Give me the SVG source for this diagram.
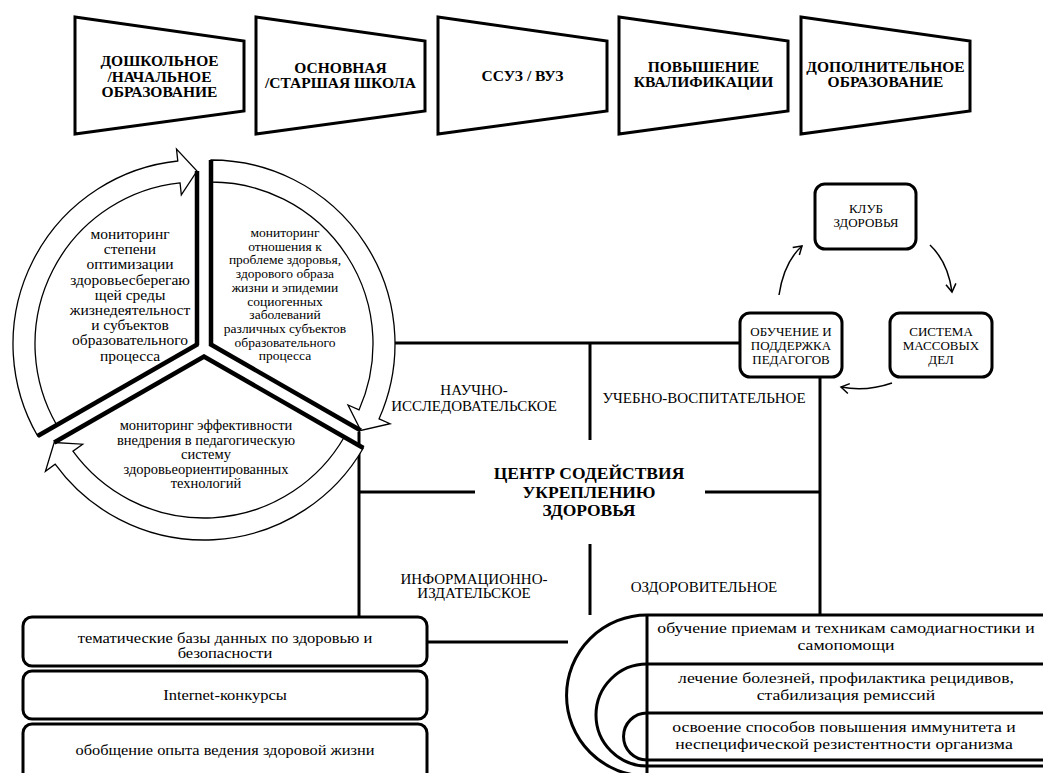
<svg xmlns="http://www.w3.org/2000/svg" width="1043" height="773" viewBox="0 0 1043 773">
<defs>
<style>
.t{font-family:"Liberation Serif","Times New Roman",serif;fill:#000;text-anchor:middle}
.b{font-weight:bold}
.trap{fill:#fff;stroke:#000;stroke-width:3;stroke-linejoin:miter}
.band{fill:#fff;stroke:#000;stroke-width:1.3;stroke-linejoin:miter}
.sec{fill:#fff;stroke:none}
.edge{stroke:#000;stroke-width:4.5;fill:none}
.ln{stroke:#000;stroke-width:3;fill:none}
.box{fill:#fff;stroke:#000;stroke-width:3}
.cur{fill:none;stroke:#000;stroke-width:1.5}
</style>
<marker id="ah" markerWidth="12" markerHeight="12" refX="9" refY="6" orient="auto" markerUnits="userSpaceOnUse">
<path d="M1,1 L9,6 L1,11" fill="none" stroke="#000" stroke-width="1.5"/>
</marker>
</defs>
<rect width="1043" height="773" fill="#fff"/>

<!-- top stages -->
<g id="stage1"><polygon class="trap" points="75,17 244,41 244,111 75,134"/>
<text class="t b" font-size="15.5" x="159.5" y="66">ДОШКОЛЬНОЕ</text>
<text class="t b" font-size="15.5" x="159.5" y="81.5">/НАЧАЛЬНОЕ</text>
<text class="t b" font-size="15.5" x="159.5" y="97">ОБРАЗОВАНИЕ</text></g>
<g id="stage2"><polygon class="trap" points="256,17 425,41 425,111 256,134"/>
<text class="t b" font-size="15.5" x="340.5" y="73">ОСНОВНАЯ</text>
<text class="t b" font-size="15.5" x="340.5" y="88">/СТАРШАЯ ШКОЛА</text></g>
<g id="stage3"><polygon class="trap" points="438,17 607,41 607,111 438,134"/>
<text class="t b" font-size="15.5" x="522.5" y="81">ССУЗ / ВУЗ</text></g>
<g id="stage4"><polygon class="trap" points="619,17 788,41 788,111 619,134"/>
<text class="t b" font-size="15.5" x="703.5" y="72">ПОВЫШЕНИЕ</text>
<text class="t b" font-size="15.5" x="703.5" y="87">КВАЛИФИКАЦИИ</text></g>
<g id="stage5"><polygon class="trap" points="801,17 970,41 970,111 801,134"/>
<text class="t b" font-size="15.5" x="885.5" y="72">ДОПОЛНИТЕЛЬНОЕ</text>
<text class="t b" font-size="15.5" x="885.5" y="87">ОБРАЗОВАНИЕ</text></g>

<!-- connectors -->
<g id="connectors">
<line class="ln" x1="393" y1="343" x2="741" y2="343"/>
<line class="ln" x1="590" y1="343" x2="590" y2="440"/>
<line class="ln" x1="820" y1="376" x2="820" y2="616"/>
<line class="ln" x1="358" y1="492" x2="475" y2="492"/>
<line class="ln" x1="705" y1="492" x2="821" y2="492"/>
<line class="ln" x1="590" y1="544" x2="590" y2="615"/>
<line class="ln" x1="359" y1="432" x2="359" y2="618"/>
<line class="ln" x1="426" y1="642" x2="568" y2="642"/>
<path class="cur" d="M779,295 Q784,262 802,246" marker-end="url(#ah)"/>
<path class="cur" d="M930,245 Q948,262 952,292" marker-end="url(#ah)"/>
<path class="cur" d="M892,383 Q866,392 841,387" marker-end="url(#ah)"/>
</g>

<!-- monitoring cycle -->
<g id="cycle">
<path class="sec" d="M197,344 L56.7,425 A162,162 0 0 1 197,182 Z"/>
<path class="sec" d="M211,344 L211,182 A162,162 0 0 1 351.3,425 Z"/>
<path class="sec" d="M204,356 L344.3,437 A162,162 0 0 1 63.7,437 Z"/>
<path class="band" d="M37.65,436 A184,184 0 0 1 177.77,161.01 L176.51,149.07 L197,171 L181.32,194.82 L180.07,182.89 A162,162 0 0 0 56.7,425 Z"/>
<path class="band" d="M211,160 A184,184 0 0 1 379.09,418.84 L390.06,423.72 L360.82,430.5 L348.03,405.01 L359,409.89 A162,162 0 0 0 211,182 Z"/>
<path class="band" d="M363.35,448 A184,184 0 0 1 55.14,464.15 L45.43,471.21 L54.18,442.5 L82.65,444.17 L72.94,451.22 A162,162 0 0 0 344.3,437 Z"/>
<line class="edge" x1="197" y1="345" x2="197" y2="171"/>
<line class="edge" x1="198" y1="344" x2="37.65" y2="436"/>
<line class="edge" x1="211" y1="346" x2="211" y2="160"/>
<line class="edge" x1="210" y1="344" x2="360.8" y2="430.5"/>
<line class="edge" x1="203" y1="356" x2="363.35" y2="448"/>
<line class="edge" x1="205" y1="356" x2="54.18" y2="442.5"/>
</g>
<g id="mon-left">
<text class="t" font-size="15.5" x="130" y="239">мониторинг</text>
<text class="t" font-size="15.5" x="130" y="254.2">степени</text>
<text class="t" font-size="15.5" x="130" y="269.4">оптимизации</text>
<text class="t" font-size="15.5" x="130" y="284.6">здоровьесберегаю</text>
<text class="t" font-size="15.5" x="130" y="299.8">щей среды</text>
<text class="t" font-size="15.5" x="130" y="315">жизнедеятельност</text>
<text class="t" font-size="15.5" x="130" y="330.2">и субъектов</text>
<text class="t" font-size="15.5" x="130" y="345.4">образовательного</text>
<text class="t" font-size="15.5" x="130" y="360.6">процесса</text>
</g>
<g id="mon-right">
<text class="t" font-size="13.5" x="285" y="237">мониторинг</text>
<text class="t" font-size="13.5" x="285" y="250.7">отношения к</text>
<text class="t" font-size="13.5" x="285" y="264.4">проблеме здоровья,</text>
<text class="t" font-size="13.5" x="285" y="278.1">здорового образа</text>
<text class="t" font-size="13.5" x="285" y="291.8">жизни и эпидемии</text>
<text class="t" font-size="13.5" x="285" y="305.5">социогенных</text>
<text class="t" font-size="13.5" x="285" y="319.2">заболеваний</text>
<text class="t" font-size="13.5" x="285" y="332.9">различных субъектов</text>
<text class="t" font-size="13.5" x="285" y="346.6">образовательного</text>
<text class="t" font-size="13.5" x="285" y="360.3">процесса</text>
</g>
<g id="mon-bottom">
<text class="t" font-size="14.5" x="206" y="430">мониторинг эффективности</text>
<text class="t" font-size="14.5" x="206" y="444.5">внедрения в педагогическую</text>
<text class="t" font-size="14.5" x="206" y="459">систему</text>
<text class="t" font-size="14.5" x="206" y="473.5">здоровьеориентированных</text>
<text class="t" font-size="14.5" x="206" y="488">технологий</text>
</g>

<!-- direction labels -->
<g id="lbl-nauch"><text class="t" font-size="15" x="474" y="395">НАУЧНО-</text><text class="t" font-size="15" x="474" y="411">ИССЛЕДОВАТЕЛЬСКОЕ</text></g>
<g id="lbl-ucheb"><text class="t" font-size="15" x="704" y="403">УЧЕБНО-ВОСПИТАТЕЛЬНОЕ</text></g>
<g id="center"><text class="t b" font-size="17.5" x="589" y="479">ЦЕНТР СОДЕЙСТВИЯ</text><text class="t b" font-size="17.5" x="589" y="497.5">УКРЕПЛЕНИЮ</text><text class="t b" font-size="17.5" x="589" y="516">ЗДОРОВЬЯ</text></g>
<g id="lbl-inf"><text class="t" font-size="15" x="474" y="584">ИНФОРМАЦИОННО-</text><text class="t" font-size="15" x="474" y="598">ИЗДАТЕЛЬСКОЕ</text></g>
<g id="lbl-ozd"><text class="t" font-size="15" x="704" y="592">ОЗДОРОВИТЕЛЬНОЕ</text></g>

<!-- club cycle -->
<g id="club"><rect class="box" x="815" y="184" width="101" height="65" rx="10"/>
<text class="t" font-size="13" x="866" y="213">КЛУБ</text><text class="t" font-size="13" x="866" y="227">ЗДОРОВЬЯ</text></g>
<g id="teach"><rect class="box" x="740" y="313" width="102" height="64" rx="10"/>
<text class="t" font-size="13" x="791" y="336">ОБУЧЕНИЕ И</text><text class="t" font-size="13" x="791" y="350">ПОДДЕРЖКА</text><text class="t" font-size="13" x="791" y="364">ПЕДАГОГОВ</text></g>
<g id="mass"><rect class="box" x="890" y="313" width="102" height="64" rx="10"/>
<text class="t" font-size="13" x="941" y="336">СИСТЕМА</text><text class="t" font-size="13" x="941" y="350">МАССОВЫХ</text><text class="t" font-size="13" x="941" y="364">ДЕЛ</text></g>

<!-- info boxes -->
<g id="info1"><rect class="box" x="23" y="617" width="404" height="49" rx="9"/>
<g transform="translate(225,0) scale(1.1,1)">
<text class="t" font-size="15" x="0" y="643.5">тематические базы данных по здоровью и</text>
<text class="t" font-size="15" x="0" y="658">безопасности</text></g></g>
<g id="info2"><rect class="box" x="23" y="671" width="404" height="48" rx="9"/>
<g transform="translate(225,0) scale(1.1,1)"><text class="t" font-size="15" x="0" y="700">Internet-конкурсы</text></g></g>
<g id="info3"><rect class="box" x="23" y="724" width="404" height="60" rx="9"/>
<g transform="translate(225,0) scale(1.09,1)"><text class="t" font-size="15" x="0" y="755">обобщение опыта ведения здоровой жизни</text></g></g>

<!-- health rows -->
<g id="health">
<path class="ln" d="M1045,615 L647,615 A80.5,80.5 0 0 0 647,776 L1045,776"/>
<path class="ln" d="M1045,664 L647,664 A51,51 0 0 0 647,766 L1045,766"/>
<path class="ln" d="M1045,713 L647,713 A23.5,23.5 0 0 0 647,760 L1045,760"/>
<line class="ln" x1="647" y1="615" x2="647" y2="775"/>
</g>
<g id="h1"><g transform="translate(846,0) scale(1.22,1)"><text class="t" font-size="14.5" x="0" y="633.5">обучение приемам и техникам самодиагностики и</text><text class="t" font-size="14.5" x="0" y="650.5">самопомощи</text></g></g>
<g id="h2"><g transform="translate(846,0) scale(1.22,1)"><text class="t" font-size="14.5" x="0" y="683.5">лечение болезней, профилактика рецидивов,</text><text class="t" font-size="14.5" x="0" y="700.5">стабилизация ремиссий</text></g></g>
<g id="h3"><g transform="translate(844,0) scale(1.22,1)"><text class="t" font-size="14.5" x="0" y="732">освоение способов повышения иммунитета и</text><text class="t" font-size="14.5" x="0" y="749">неспецифической резистентности организма</text></g></g>
</svg>
